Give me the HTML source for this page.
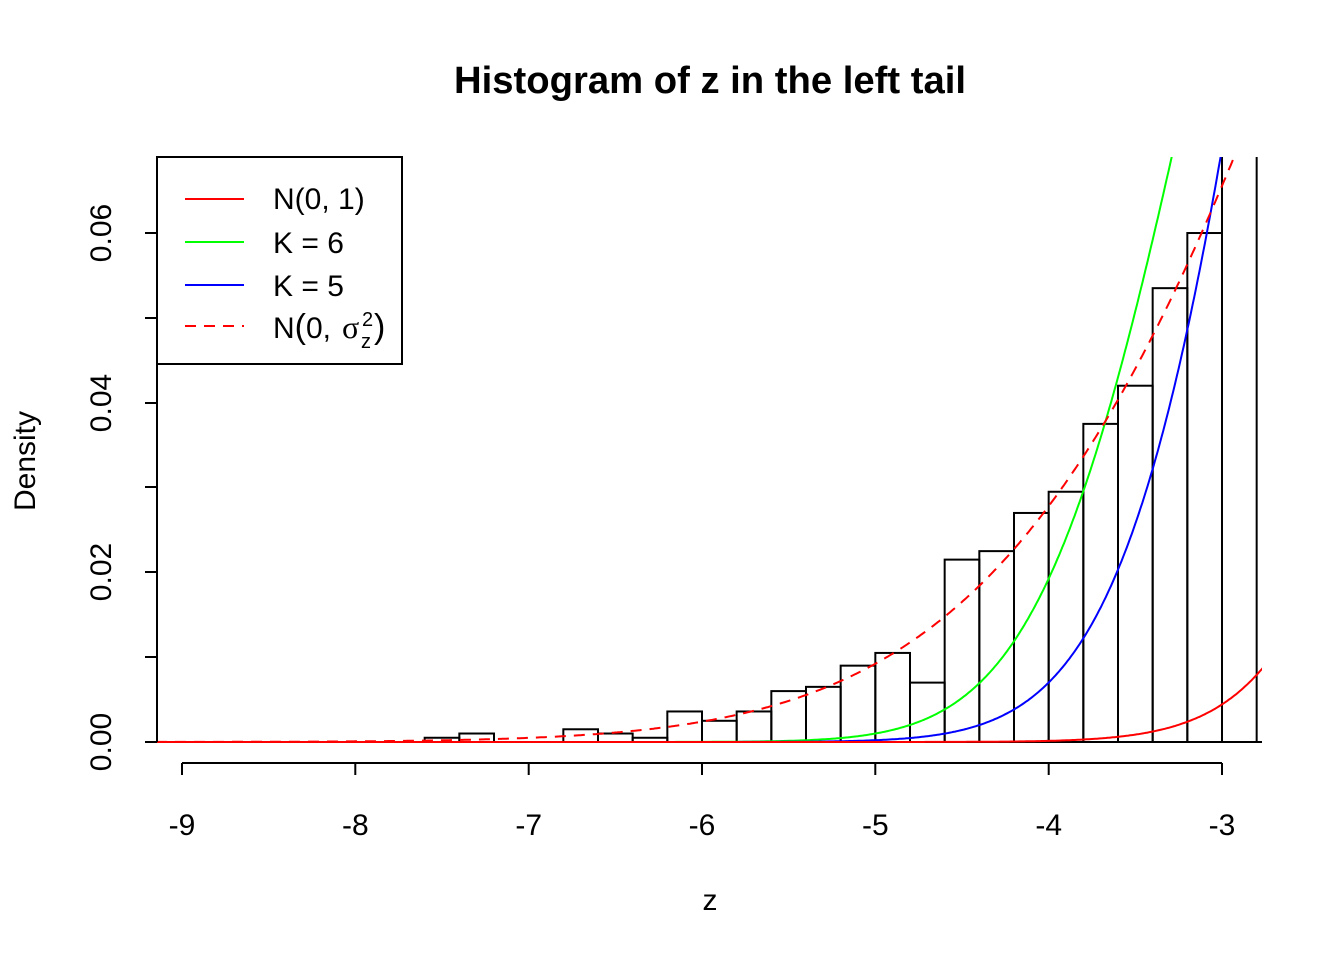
<!DOCTYPE html>
<html><head><meta charset="utf-8"><style>
html,body{margin:0;padding:0;background:#fff;}
svg{display:block;font-family:"Liberation Sans",Arial,sans-serif;}
</style></head><body>
<svg id="s" width="1344" height="960" viewBox="0 0 1344 960" xmlns="http://www.w3.org/2000/svg">
<rect width="1344" height="960" fill="#fff"/>
<text x="710" y="93" font-size="38" font-weight="bold" text-anchor="middle" textLength="512" lengthAdjust="spacingAndGlyphs">Histogram of z in the left tail</text>
<defs><clipPath id="c"><rect x="157" y="157" width="1105" height="600"/></clipPath></defs>
<g id="bars" fill="none" stroke="#000" stroke-width="2" clip-path="url(#c)"></g>
<g id="curves" fill="none" stroke-width="2" clip-path="url(#c)"></g>
<g stroke="#000" stroke-width="2">
<line x1="157" y1="233" x2="157" y2="742"/>
<line x1="145" y1="742" x2="157" y2="742"/><line x1="145" y1="657" x2="157" y2="657"/>
<line x1="145" y1="572" x2="157" y2="572"/><line x1="145" y1="487" x2="157" y2="487"/>
<line x1="145" y1="403" x2="157" y2="403"/><line x1="145" y1="318" x2="157" y2="318"/>
<line x1="145" y1="233" x2="157" y2="233"/>
<line x1="182" y1="763" x2="1222" y2="763"/>
<line x1="182" y1="763" x2="182" y2="775"/><line x1="355.3" y1="763" x2="355.3" y2="775"/>
<line x1="528.7" y1="763" x2="528.7" y2="775"/><line x1="702" y1="763" x2="702" y2="775"/>
<line x1="875.3" y1="763" x2="875.3" y2="775"/><line x1="1048.7" y1="763" x2="1048.7" y2="775"/>
<line x1="1222" y1="763" x2="1222" y2="775"/>
</g>
<g font-size="30" text-anchor="middle">
<text transform="translate(111,742) rotate(-90)">0.00</text>
<text transform="translate(111,572) rotate(-90)">0.02</text>
<text transform="translate(111,403) rotate(-90)">0.04</text>
<text transform="translate(111,233) rotate(-90)">0.06</text>
<text x="182" y="835">-9</text><text x="355.3" y="835">-8</text><text x="528.7" y="835">-7</text>
<text x="702" y="835">-6</text><text x="875.3" y="835">-5</text><text x="1048.7" y="835">-4</text>
<text x="1222" y="835">-3</text>
<text x="710" y="910">z</text>
<text transform="translate(35,461) rotate(-90)">Density</text>
</g>
<rect x="157" y="157" width="245" height="207" fill="#fff" stroke="#000" stroke-width="2"/>
<g stroke-width="2">
<line x1="185" y1="199" x2="244" y2="199" stroke="#f00"/>
<line x1="185" y1="242" x2="244" y2="242" stroke="#0f0"/>
<line x1="185" y1="285" x2="244" y2="285" stroke="#00f"/>
<line x1="185" y1="326" x2="244" y2="326" stroke="#f00" stroke-dasharray="11,8"/>
</g>
<g font-size="30">
<text x="273" y="209">N(0, 1)</text>
<text x="273" y="253">K = 6</text>
<text x="273" y="296">K = 5</text>
<text x="273" y="338">N<tspan font-size="34">(</tspan>0,</text>
<text x="342" y="338" font-family="'Liberation Serif',serif" font-size="32">σ</text>
<text x="362" y="326" font-size="20">2</text>
<text x="361" y="348" font-size="20">z</text>
<text x="374" y="338" font-size="34">)</text>
</g>
<script>
var X=function(z){return 182+(z+9)*173.333;},Y=function(d){return 742-d*8483;};
var bars=[[-7.6,0.0005],[-7.4,0.001],[-7.2,0],[-7.0,0],[-6.8,0.0015],[-6.6,0.001],[-6.4,0.0005],[-6.2,0.0036],[-6.0,0.0025],[-5.8,0.0036],[-5.6,0.006],[-5.4,0.0065],[-5.2,0.009],[-5.0,0.0105],[-4.8,0.007],[-4.6,0.0215],[-4.4,0.0225],[-4.2,0.027],[-4.0,0.0295],[-3.8,0.0375],[-3.6,0.042],[-3.4,0.0535],[-3.2,0.060],[-3.0,0.2]];
var ns="http://www.w3.org/2000/svg",g=document.getElementById('bars');
bars.forEach(function(b){var r=document.createElementNS(ns,'rect');var x0=X(b[0]),x1=X(b[0]+0.2);r.setAttribute('x',x0);r.setAttribute('width',x1-x0);r.setAttribute('y',Y(b[1]));r.setAttribute('height',742-Y(b[1]));g.appendChild(r);});
var bl=document.createElementNS(ns,'line');bl.setAttribute('x1',157);bl.setAttribute('x2',1262);bl.setAttribute('y1',742);bl.setAttribute('y2',742);g.appendChild(bl);
function path(f,col,dash){var d='';for(var z=-9.15;z<=-2.76;z+=0.01){var y=Math.max(Y(f(z)),140);d+=(d?'L':'M')+X(z).toFixed(1)+','+y.toFixed(1);}var p=document.createElementNS(ns,'path');p.setAttribute('d',d);p.setAttribute('stroke',col);if(dash)p.setAttribute('stroke-dasharray',dash);document.getElementById('curves').appendChild(p);}
var s=2.02;
path(function(z){var u=z+4;return Math.exp(-3.95+2.28*u-0.68*u*u);},'#0f0');
path(function(z){var u=z+4;return Math.exp(-4.96+2.9*u-0.6*u*u);},'#00f');
path(function(z){return Math.exp(-z*z/2)/Math.sqrt(2*Math.PI);},'#f00');
path(function(z){return Math.exp(-z*z/(2*s*s))/(s*Math.sqrt(2*Math.PI));},'#f00','11,8');
</script>
</svg>
</body></html>
